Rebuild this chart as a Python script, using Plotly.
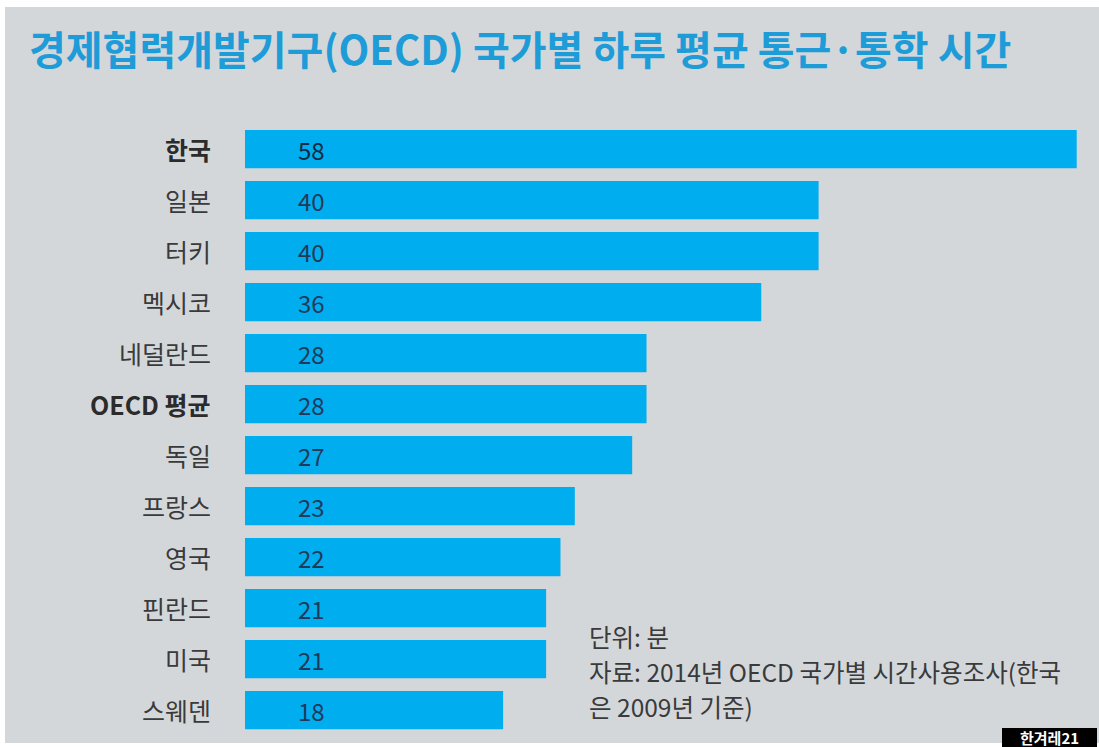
import plotly.graph_objects as go

categories = ["한국", "일본", "터키", "멕시코", "네덜란드", "OECD 평균", "독일", "프랑스", "영국", "핀란드", "미국", "스웨덴"]
values = [58, 40, 40, 36, 28, 28, 27, 23, 22, 21, 21, 18]
bold_rows = ["한국", "OECD 평균"]

title = "경제협력개발기구(OECD) 국가별 하루 평균 통근·통학 시간"
note_lines = ["단위: 분", "자료: 2014년 OECD 국가별 시간사용조사(한국", "은 2009년 기준)"]
badge = "한겨레21"

W, H = 1099, 747
FONT = "Noto Sans CJK KR"
BG = "#d4d7da"
BAR = "#00aeef"

x_left_px = 245
px_per_unit = 14.34
x_max = (W - x_left_px) / px_per_unit

row_px = 51
first_center = 149
top_px = first_center - row_px / 2
bot_px = top_px + row_px * len(categories)

fig = go.Figure()
fig.add_trace(go.Bar(
    y=categories, x=values, orientation="h",
    marker=dict(color=BAR, line=dict(width=0)),
    width=0.75, hoverinfo="skip",
))

def px(xp):
    return xp / W

def py(yp):
    return 1 - yp / H

annotations = []
# title
annotations.append(dict(text=f"<b>{title}</b>", x=px(27), y=py(48), xref="paper", yref="paper",
                        xanchor="left", yanchor="middle", showarrow=False,
                        font=dict(family=FONT, size=40, color="#1e9cd8")))
# category labels and values
for i, (c, v) in enumerate(zip(categories, values)):
    lbl = f"<b>{c}</b>" if c in bold_rows else c
    annotations.append(dict(text=lbl, x=px(213), y=c, xref="paper", yref="y",
                            xanchor="right", yanchor="middle", showarrow=False,
                            font=dict(family=FONT, size=25, color="#2b2b2b" if c in bold_rows else "#3a3a3a")))
    annotations.append(dict(text=str(v), x=px(296), y=c, xref="paper", yref="y",
                            xanchor="left", yanchor="middle", showarrow=False,
                            font=dict(family=FONT, size=24, color="#142a44" if i == 0 else "#1f3a5a")))
# notes
for j, line in enumerate(note_lines):
    annotations.append(dict(text=line, x=px(587), y=py(636 + 35 * j), xref="paper", yref="paper",
                            xanchor="left", yanchor="middle", showarrow=False,
                            font=dict(family=FONT, size=24.5, color="#3a3a3a")))
# badge
annotations.append(dict(text=f"<b>{badge}</b>", x=px(1049), y=py(737), xref="paper", yref="paper",
                        xanchor="center", yanchor="middle", showarrow=False,
                        font=dict(family=FONT, size=15, color="white")))

shapes = [
    dict(type="rect", xref="paper", yref="paper", x0=px(5), x1=1, y0=py(743), y1=py(7),
         fillcolor=BG, line=dict(width=0), layer="below"),
    dict(type="rect", xref="paper", yref="paper", x0=px(1002), x1=px(1097), y0=0, y1=py(728),
         fillcolor="black", line=dict(width=0), layer="above"),
]

fig.update_layout(
    width=W, height=H,
    margin=dict(l=0, r=0, t=0, b=0),
    paper_bgcolor="white", plot_bgcolor="rgba(0,0,0,0)",
    showlegend=False,
    xaxis=dict(domain=[px(x_left_px), 1], range=[0, x_max], visible=False, fixedrange=True),
    yaxis=dict(domain=[py(bot_px), py(top_px)], range=[len(categories) - 0.5, -0.5],
               visible=False, categoryorder="array", categoryarray=categories, fixedrange=True),
    annotations=annotations,
    shapes=shapes,
    bargap=0.25,
)

fig.write_html("out.html")
